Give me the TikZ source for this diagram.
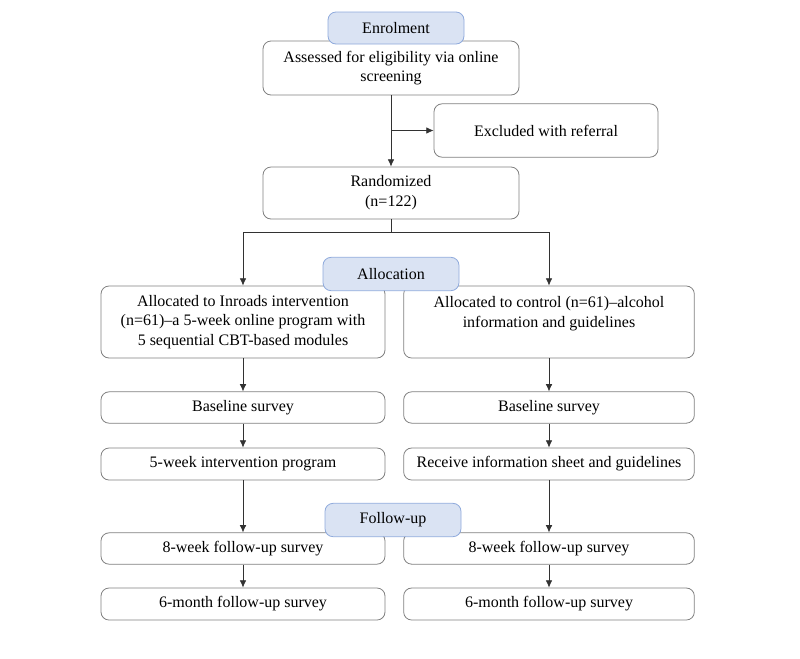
\documentclass[tikz,border=0pt]{standalone}
\usepackage{fontspec}
\setmainfont{Liberation Serif}
\usepackage{tikz}
\usetikzlibrary{shapes,arrows,positioning,calc,arrows.meta}

\definecolor{boxline}{RGB}{128,128,128}
\definecolor{hdrfill}{RGB}{218,227,243}
\definecolor{hdrline}{RGB}{143,170,220}
\definecolor{arrowcol}{RGB}{50,50,50}

\tikzset{
    stagebox/.style={draw=boxline, rounded corners=6pt, line width=0.6pt, fill=white,
        align=center, inner sep=0pt, font=\fontsize{12}{14.8}\selectfont},
    hdrbox/.style={stagebox, draw=hdrline, fill=hdrfill, minimum width=102pt, minimum height=25pt},
    flow/.style={-{Latex[length=5.5pt,width=5pt]}, draw=arrowcol, line width=0.6pt},
    link/.style={draw=arrowcol, line width=0.6pt}
}

\begin{document}
\begin{tikzpicture}[x=0.75pt, y=-0.75pt]
    \useasboundingbox (0,0) rectangle (800,658);

    % Enrolment
    \node[stagebox, minimum width=192pt, minimum height=40.5pt] (assess) at (391,68)
        {Assessed for eligibility via online\\ screening};
    \node[stagebox, minimum width=168pt, minimum height=40pt] (excl) at (546,130.5)
        {Excluded with referral};
    \node[stagebox, minimum width=192pt, minimum height=39pt] (rand) at (391,193)
        {Randomized\\ (n=122)};

    % Allocation
    \node[stagebox, minimum width=213pt, minimum height=54pt] (lalloc) at (243,322)
        {Allocated to Inroads intervention\\ (n=61)--a 5-week online program with\\ 5 sequential CBT-based modules};
    \node[stagebox, minimum width=218pt, minimum height=54pt] (ralloc) at (549,322)
        {Allocated to control (n=61)--alcohol\\ information and guidelines\\ \mbox{}};
    \node[stagebox, minimum width=213pt, minimum height=23.5pt] (lbase) at (243,407.5) {Baseline survey};
    \node[stagebox, minimum width=218pt, minimum height=23.5pt] (rbase) at (549,407.5) {Baseline survey};
    \node[stagebox, minimum width=213pt, minimum height=24pt] (lprog) at (243,464) {5-week intervention program};
    \node[stagebox, minimum width=218pt, minimum height=24pt] (rprog) at (549,464) {Receive information sheet and guidelines};

    % Follow-up
    \node[stagebox, minimum width=213pt, minimum height=23.5pt] (leight) at (243,548.5) {8-week follow-up survey};
    \node[stagebox, minimum width=218pt, minimum height=23.5pt] (reight) at (549,548.5) {8-week follow-up survey};
    \node[stagebox, minimum width=213pt, minimum height=24pt] (lsix) at (243,604) {6-month follow-up survey};
    \node[stagebox, minimum width=218pt, minimum height=24pt] (rsix) at (549,604) {6-month follow-up survey};

    % Stage headers
    \node[hdrbox, minimum height=24pt] (hdrenrol) at (396,28) {Enrolment};
    \node[hdrbox] (hdralloc) at (391,274) {Allocation};
    \node[hdrbox] (hdrfollow) at (393,520) {Follow-up};

    % Arrows
    \coordinate (split) at (391,232);
    \draw[flow] (assess) -- (rand);
    \draw[flow] (assess.south |- excl.west) -- (excl.west);
    \draw[link] (rand) -- (split);
    \draw[flow] (split) -| (lalloc);
    \draw[flow] (split) -| (ralloc);
    \draw[flow] (lalloc) -- (lbase);
    \draw[flow] (ralloc) -- (rbase);
    \draw[flow] (lbase) -- (lprog);
    \draw[flow] (rbase) -- (rprog);
    \draw[flow] (lprog) -- (leight);
    \draw[flow] (rprog) -- (reight);
    \draw[flow] (leight) -- (lsix);
    \draw[flow] (reight) -- (rsix);
\end{tikzpicture}
\end{document}
